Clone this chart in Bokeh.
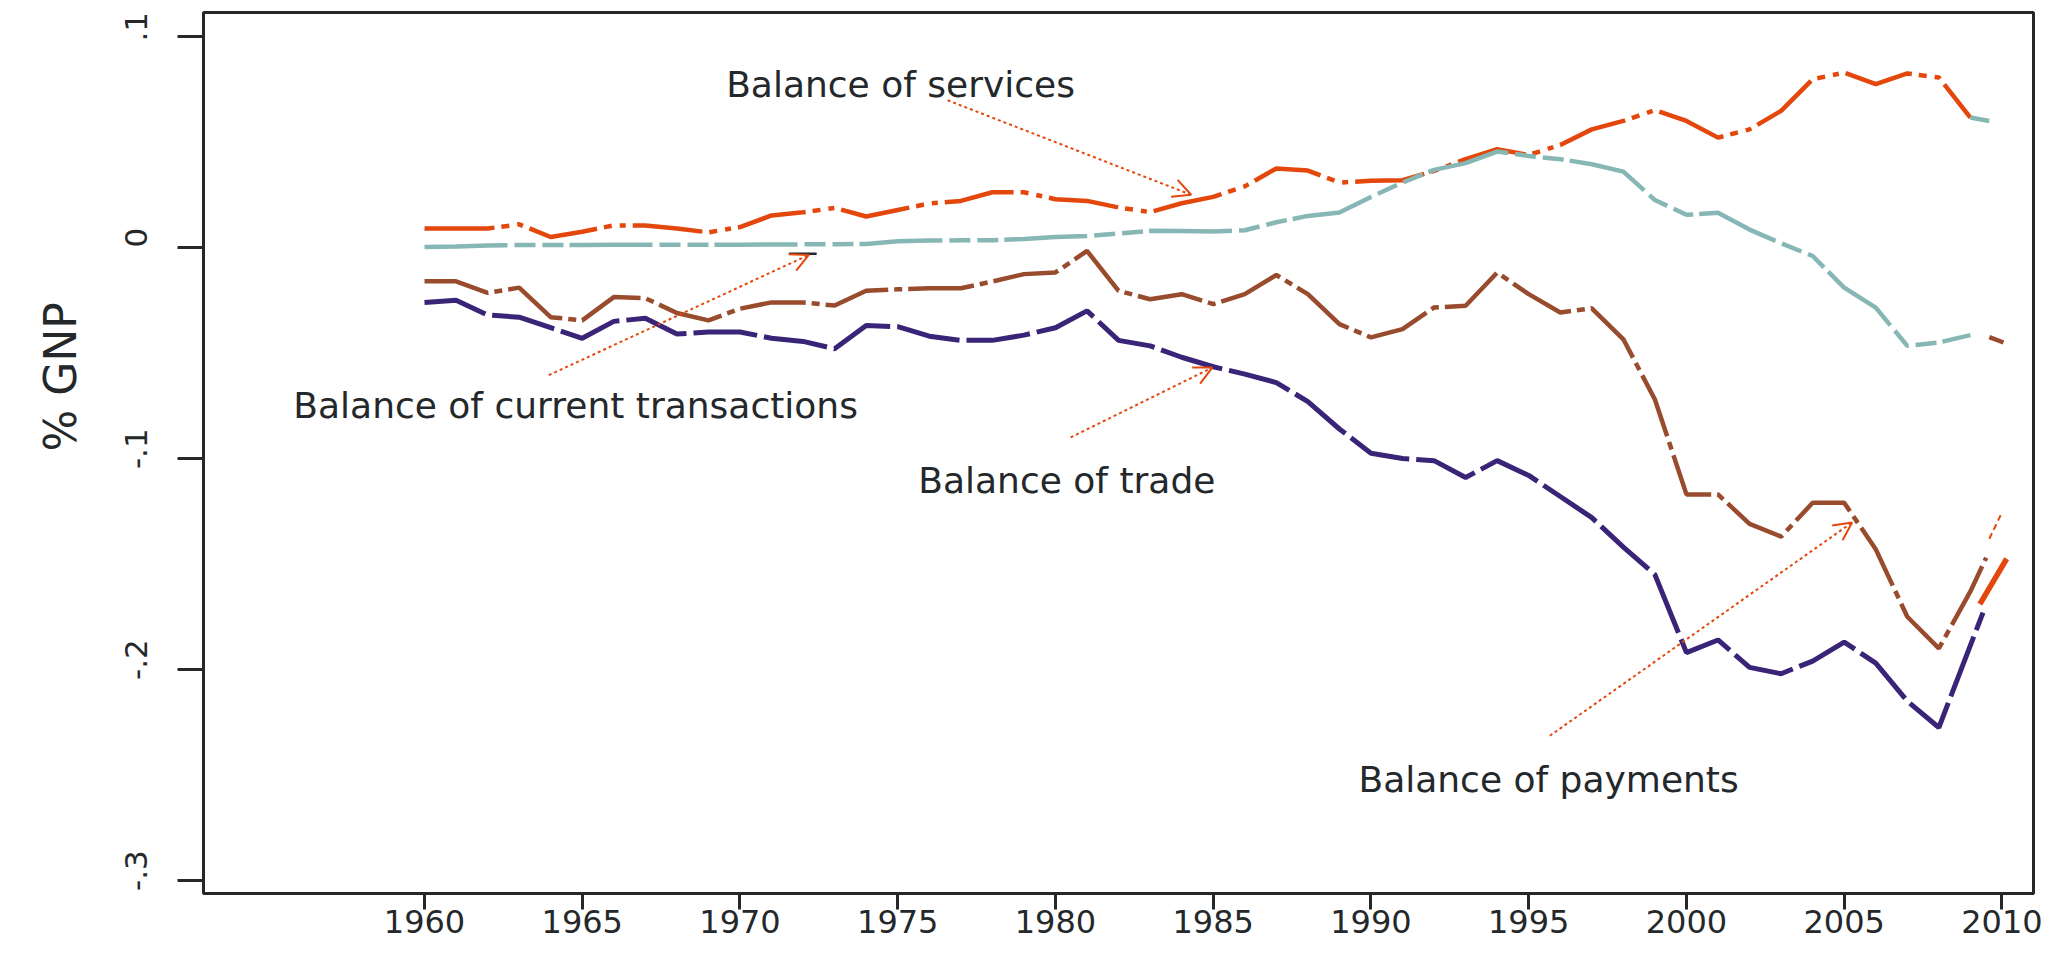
import math
from bokeh.plotting import figure
from bokeh.models import Range1d, FixedTicker, Label, Arrow, OpenHead, Title
from bokeh.embed import file_html
from bokeh.resources import INLINE

# ---------------- data (share of GNP) ----------------
years = list(range(1960, 2010))

balance_services = [
    0.0090, 0.0090, 0.0090, 0.0110, 0.0050, 0.0075, 0.0105, 0.0105, 0.0090, 0.0072,
    0.0097, 0.0152, 0.0167, 0.0188, 0.0147, 0.0178, 0.0209, 0.0221, 0.0262, 0.0262,
    0.0229, 0.0221, 0.0190, 0.0168, 0.0210, 0.0240, 0.0290, 0.0375, 0.0365, 0.0308,
    0.0316, 0.0319, 0.0363, 0.0419, 0.0466, 0.0439, 0.0486, 0.0560, 0.0600, 0.0651,
    0.0600, 0.0521, 0.0560, 0.0648, 0.0798, 0.0829, 0.0774, 0.0825, 0.0806, 0.0616]

balance_current = [
    0.0002, 0.0005, 0.0010, 0.0012, 0.0012, 0.0012, 0.0013, 0.0013, 0.0013, 0.0013,
    0.0013, 0.0015, 0.0015, 0.0016, 0.0017, 0.0030, 0.0033, 0.0034, 0.0035, 0.0040,
    0.0050, 0.0055, 0.0066, 0.0079, 0.0078, 0.0076, 0.0082, 0.0120, 0.0150, 0.0166,
    0.0240, 0.0308, 0.0368, 0.0400, 0.0455, 0.0434, 0.0419, 0.0395, 0.0360, 0.0225,
    0.0155, 0.0165, 0.0085, 0.0020, -0.0040, -0.0190, -0.0285, -0.0466, -0.0450, -0.0415]

payments_years = years + [2009.5]
balance_payments = [
    -0.0160, -0.0160, -0.0215, -0.0190, -0.0330, -0.0345, -0.0235, -0.0240, -0.0310, -0.0345,
    -0.0290, -0.0260, -0.0260, -0.0275, -0.0205, -0.0198, -0.0193, -0.0193, -0.0161, -0.0126,
    -0.0118, -0.0016, -0.0205, -0.0245, -0.0221, -0.0268, -0.0221, -0.0130, -0.0221, -0.0363,
    -0.0426, -0.0387, -0.0284, -0.0276, -0.0119, -0.0221, -0.0308, -0.0288, -0.0435, -0.0720,
    -0.1170, -0.1170, -0.1310, -0.1370, -0.1210, -0.1210, -0.1430, -0.1750, -0.1900, -0.1630,
    -0.1470]

trade_years = list(range(1960, 2009)) + [2009.4]
balance_trade = [
    -0.0260, -0.0250, -0.0320, -0.0330, -0.0380, -0.0430, -0.0350, -0.0335, -0.0410, -0.0400,
    -0.0400, -0.0430, -0.0445, -0.0480, -0.0370, -0.0375, -0.0420, -0.0440, -0.0440, -0.0415,
    -0.0380, -0.0300, -0.0440, -0.0466, -0.0520, -0.0565, -0.0600, -0.0640, -0.0730, -0.0860,
    -0.0975, -0.1000, -0.1010, -0.1090, -0.1010, -0.1080, -0.1180, -0.1280, -0.1420, -0.1550,
    -0.1920, -0.1860, -0.1990, -0.2020, -0.1960, -0.1870, -0.1970, -0.2150, -0.2275, -0.1730]

# final segments that the original drew in another series' colour
services_tail_x = [2009.0, 2009.6]
services_tail_y = [0.0616, 0.0600]
current_tail_x = [2009.6, 2010.05]
current_tail_y = [-0.0425, -0.0450]
payments_tail_x = [2009.6, 2010.0]
payments_tail_y = [-0.1380, -0.1256]
trade_tail_x = [2009.3, 2010.15]
trade_tail_y = [-0.1690, -0.1475]

x_ticks = [1960, 1965, 1970, 1975, 1980, 1985, 1990, 1995, 2000, 2005, 2010]
y_ticks = [0.1, 0.0, -0.1, -0.2, -0.3]
y_tick_labels = [".1", "0", "-.1", "-.2", "-.3"]

# annotation texts and arrows: (text, x, y) and (x0, y0, x1, y1)
notes = [
    ("Balance of services", 1975.09, 0.0773),
    ("Balance of current transactions", 1964.79, -0.0749),
    ("Balance of trade", 1980.36, -0.1104),
    ("Balance of payments", 1995.63, -0.2521),
]
arrows = [
    (1976.58, 0.0698, 1984.30, 0.0250),
    (1963.94, -0.0605, 1972.18, -0.0035),
    (1980.48, -0.0900, 1984.97, -0.0569),
    (1995.67, -0.2314, 2005.25, -0.1303),
]
dark_mark_x = [1971.55, 1972.43]
dark_mark_y = [-0.0029, -0.0029]

# ---------------- styling ----------------
ORANGE = "#E4470C"
TEAL = "#87B7B4"
BROWN = "#994B2D"
NAVY = "#3A2477"
INK = "#24282A"
FONT = "DejaVu Sans"
PAD = "\u00a0\u00a0"   # the original draws its rotated y labels a little above the tick

p = figure(width=2045, height=957, output_backend="svg", toolbar_location=None,
           x_range=Range1d(1952.995, 2011.0), y_range=Range1d(-0.30616, 0.1114),
           min_border_left=203, min_border_right=12, min_border_top=12, min_border_bottom=64)
p.grid.visible = False
p.background_fill_color = "white"
p.border_fill_color = "white"
p.outline_line_color = INK
p.outline_line_width = 3

# axes
p.xaxis.ticker = FixedTicker(ticks=x_ticks)
p.yaxis.ticker = FixedTicker(ticks=y_ticks)
p.yaxis.major_label_overrides = {t: PAD + s for t, s in zip(y_ticks, y_tick_labels)}
for ax in (p.xaxis[0], p.yaxis[0]):
    ax.axis_line_color = INK
    ax.axis_line_width = 3
    ax.major_tick_line_color = INK
    ax.major_tick_line_width = 3
    ax.major_tick_in = 0
    ax.minor_tick_line_color = None
    ax.major_label_text_font = FONT
    ax.major_label_text_color = INK
p.xaxis.major_tick_out = 16
p.xaxis.major_label_standoff = 0
p.xaxis.major_label_text_font_size = "32px"
p.yaxis.major_tick_out = 26
p.yaxis.major_label_standoff = 23
p.yaxis.major_label_text_font_size = "31px"
p.yaxis.major_label_orientation = "vertical"

# y-axis title, placed left of the tick labels and above the middle
p.add_layout(Title(text="% GNP", align="left", offset=442, standoff=60,
                   text_font=FONT, text_font_size="44px", text_font_style="normal",
                   text_color=INK), "left")

# series
p.line(years, balance_services, line_color=ORANGE, line_width=4.5, line_dash="70 7 8 8 6 7")
p.line(years, balance_current, line_color=TEAL, line_width=4.5, line_dash="83 7 21 7 21 6")
p.line(payments_years, balance_payments, line_color=BROWN, line_width=4.5, line_dash="66 6 8 6")
p.line(trade_years, balance_trade, line_color=NAVY, line_width=5, line_dash="64 7")

p.line(services_tail_x, services_tail_y, line_color=TEAL, line_width=4.5)
p.line(current_tail_x, current_tail_y, line_color=BROWN, line_width=4.5)
p.line(payments_tail_x, payments_tail_y, line_color=ORANGE, line_width=2, line_dash="6 4")
p.line(trade_tail_x, trade_tail_y, line_color=ORANGE, line_width=5.5)
p.line(dark_mark_x, dark_mark_y, line_color=INK, line_width=2.5)

# annotations
for (x0, y0, x1, y1) in arrows:
    p.add_layout(Arrow(end=OpenHead(size=18, line_color=ORANGE, line_width=2),
                       x_start=x0, y_start=y0, x_end=x1, y_end=y1,
                       line_color=ORANGE, line_width=2, line_dash="3 3"))
for (txt, x, y) in notes:
    p.add_layout(Label(x=x, y=y, text=txt, text_font=FONT, text_font_size="36px",
                       text_color=INK, text_align="center", text_baseline="alphabetic"))

open("out.html", "w").write(file_html(p, INLINE))
